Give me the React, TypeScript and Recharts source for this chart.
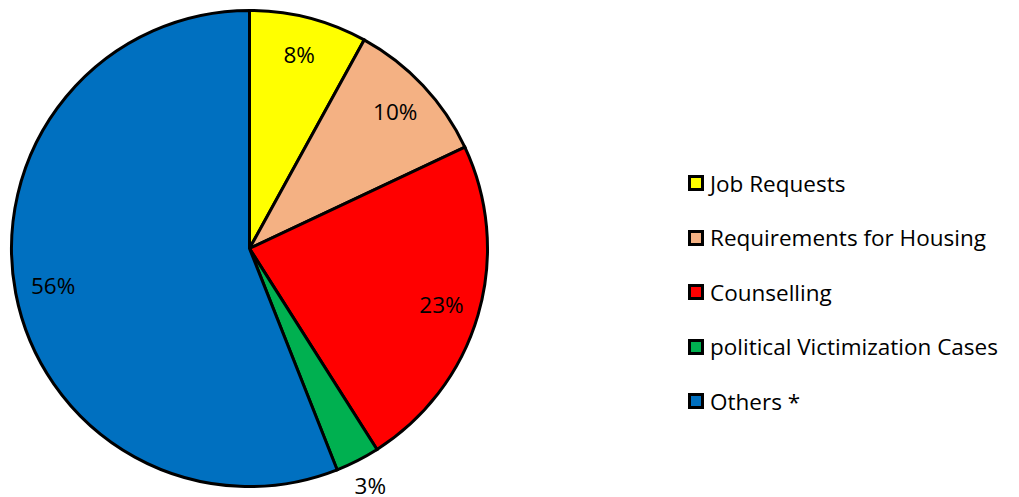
import React from 'react';
import { PieChart, Pie, Cell, Legend } from 'recharts';

const categories = ['Job Requests', 'Requirements for Housing', 'Counselling', 'political Victimization Cases', 'Others *'];
const shares = [8, 10, 23, 3, 56];
const colors = ['#FFFF00', '#F4B183', '#FF0000', '#00B050', '#0070C0'];

const data = categories.map((name, i) => ({ name, value: shares[i] }));

const FONT = '"Open Sans", Lato, sans-serif';
const RAD = Math.PI / 180;

const renderLabel = (props: any) => {
  const { cx, cy, midAngle, outerRadius, index, value } = props;
  // small slice label sits outside the pie
  const r = value < 5 ? outerRadius + 28 : outerRadius * 0.84;
  const x = cx + r * Math.cos(-midAngle * RAD);
  const y = cy + r * Math.sin(-midAngle * RAD);
  return (
    <text key={index} x={x} y={y} textAnchor="middle" dominantBaseline="central" fill="#000" fontSize={22.5} fontFamily={FONT}>
      {`${value}%`}
    </text>
  );
};

const LegendContent = () => (
  <div style={{ fontFamily: FONT, fontSize: 22.5, color: '#000' }}>
    {data.map((d, i) => (
      <div key={d.name} style={{ display: 'flex', alignItems: 'center', height: 54.5 }}>
        <span
          style={{
            width: 10,
            height: 10,
            border: '3px solid #000',
            background: colors[i],
            marginRight: 6,
            flexShrink: 0,
          }}
        />
        <span style={{ whiteSpace: 'nowrap' }}>{d.name}</span>
      </div>
    ))}
  </div>
);

const App: React.FC = () => {
  return (
    <div style={{ position: 'absolute', left: 0, top: 0, background: '#fff' }}>
      <PieChart width={1019} height={497}>
        <Pie
          data={data}
          dataKey="value"
          nameKey="name"
          cx={244.5}
          cy={243.5}
          outerRadius={238}
          startAngle={90}
          endAngle={-270}
          stroke="#000"
          strokeWidth={3}
          label={renderLabel}
          labelLine={false}
          isAnimationActive={false}
        >
          {data.map((d, i) => (
            <Cell key={d.name} fill={colors[i]} />
          ))}
        </Pie>
        <Legend
          content={<LegendContent />}
          wrapperStyle={{ position: 'absolute', left: 688, top: 156, width: 330 }}
        />
      </PieChart>
    </div>
  );
};

export default App;
